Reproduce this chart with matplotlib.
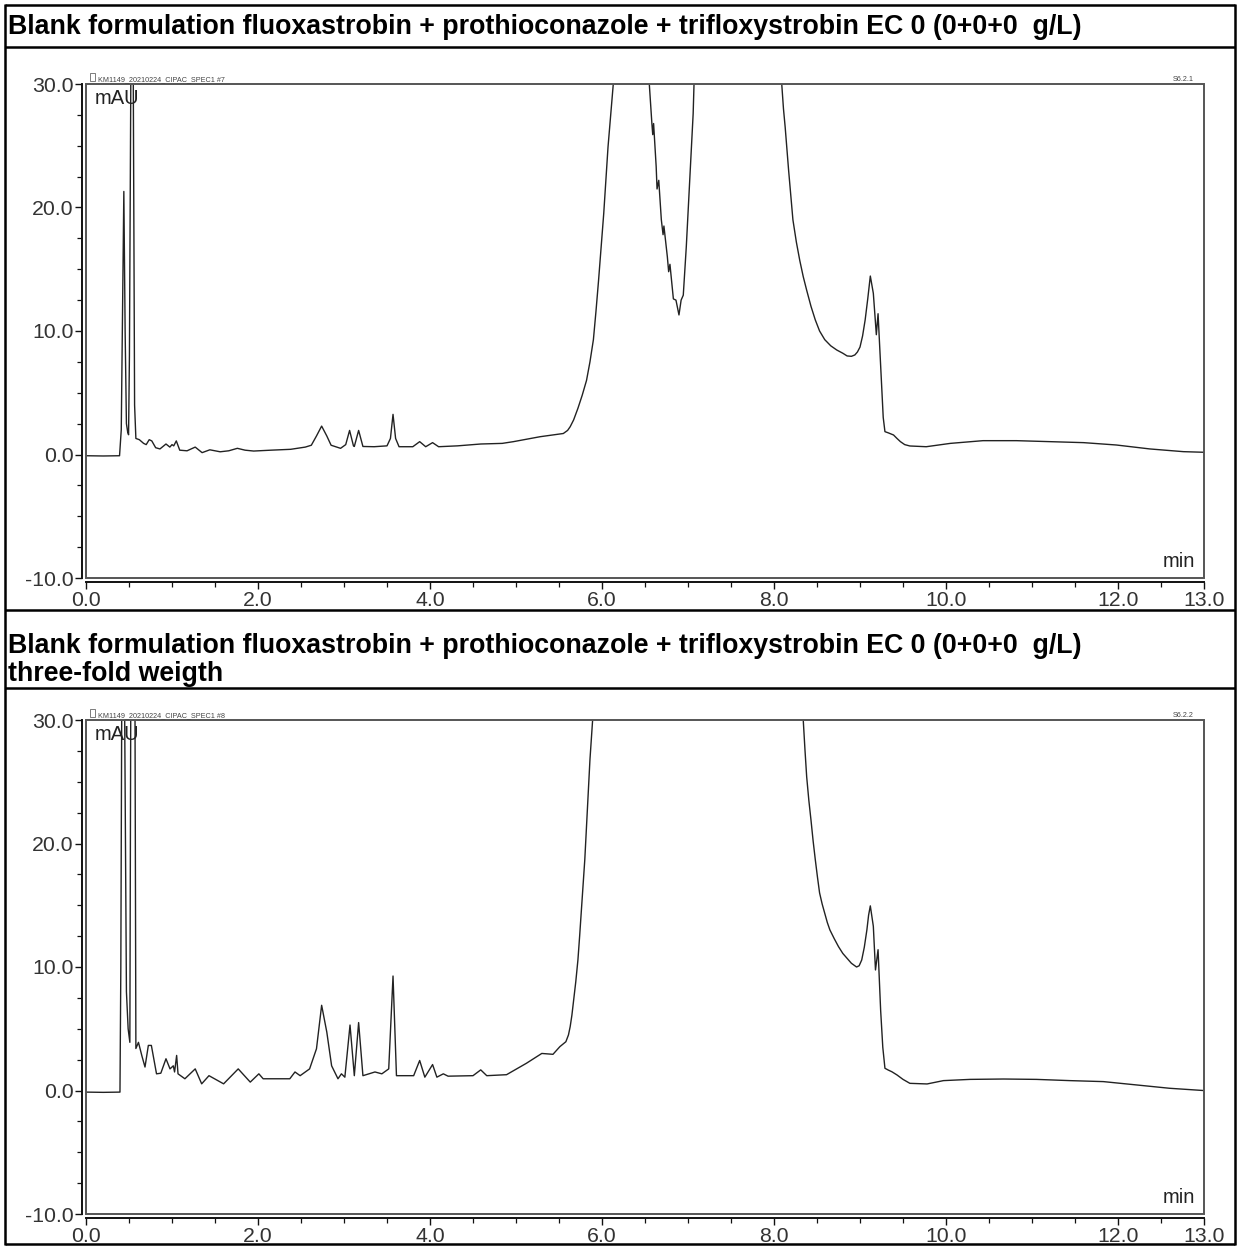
import matplotlib
matplotlib.use("Agg")
import matplotlib.pyplot as plt
from matplotlib.lines import Line2D
from matplotlib.patches import Rectangle
from matplotlib.ticker import MultipleLocator, FixedLocator, FixedFormatter

plt.rcParams['font.family'] = ['Liberation Sans', 'DejaVu Sans']

# ---------------- data ----------------
titles = [
    "Blank formulation fluoxastrobin + prothioconazole + trifloxystrobin EC 0 (0+0+0  g/L)",
    "Blank formulation fluoxastrobin + prothioconazole + trifloxystrobin EC 0 (0+0+0  g/L)\nthree-fold weigth",
]
headers = ["KM1149_20210224_CIPAC_SPEC1 #7", "KM1149_20210224_CIPAC_SPEC1 #8"]
codes = ["S6.2.1", "S6.2.2"]

xtick_vals = [0.0, 2.0, 4.0, 6.0, 8.0, 10.0, 12.0, 13.0]
xtick_labels = ["0.0", "2.0", "4.0", "6.0", "8.0", "10.0", "12.0", "13.0"]
ytick_vals = [-10.0, 0.0, 10.0, 20.0, 30.0]
ytick_labels = ["-10.0", "0.0", "10.0", "20.0", "30.0"]

time1 = [0.00, 0.20, 0.39, 0.41, 0.425, 0.44, 0.455, 0.47, 0.485, 0.495, 0.505, 0.52, 0.535, 0.55, 0.565,
         0.58, 0.62, 0.67, 0.70, 0.735, 0.765, 0.81, 0.86, 0.93, 0.975, 1.0, 1.02, 1.05, 1.09, 1.175,
         1.27, 1.35, 1.44, 1.56, 1.66, 1.76, 1.85, 1.95, 2.15, 2.38, 2.55, 2.62, 2.68, 2.74, 2.80,
         2.85, 2.96, 3.02, 3.065, 3.11, 3.12, 3.17, 3.22, 3.35, 3.50, 3.54, 3.57, 3.60, 3.64, 3.80,
         3.88, 3.95, 4.03, 4.10, 4.32, 4.59, 4.84, 4.97, 5.28, 5.55, 5.60, 5.63, 5.67, 5.72, 5.77,
         5.82, 5.86, 5.90, 5.93, 5.96, 5.99, 6.02, 6.07, 6.13, 6.34, 6.55, 6.58, 6.59, 6.60, 6.63,
         6.64, 6.66, 6.69, 6.71, 6.72, 6.76, 6.775, 6.79, 6.83, 6.86, 6.895, 6.92, 6.945, 6.98, 7.02,
         7.06, 7.07, 7.58, 8.09, 8.11, 8.13, 8.15, 8.17, 8.20, 8.22, 8.26, 8.30, 8.34, 8.38, 8.43,
         8.48, 8.53, 8.59, 8.66, 8.73, 8.80, 8.85, 8.90, 8.94, 8.97, 9.00, 9.03, 9.06, 9.09, 9.12,
         9.155, 9.19, 9.21, 9.25, 9.27, 9.29, 9.33, 9.39, 9.43, 9.47, 9.52, 9.58, 9.77, 10.05, 10.43,
         10.82, 11.21, 11.60, 11.98, 12.37, 12.76, 13.0]
signal1 = [-0.10, -0.12, -0.10, 2.0, 12.0, 21.3, 10.0, 2.5, 1.8, 1.6, 8.0, 30.0, 48.0, 30.0, 4.0,
           1.3, 1.2, 0.9, 0.8, 1.2, 1.1, 0.55, 0.45, 0.85, 0.6, 0.8, 0.7, 1.1, 0.35, 0.3,
           0.6, 0.15, 0.38, 0.22, 0.3, 0.5, 0.35, 0.28, 0.35, 0.42, 0.6, 0.75, 1.5, 2.3, 1.5,
           0.75, 0.5, 0.8, 1.95, 0.7, 0.65, 1.95, 0.65, 0.63, 0.7, 1.3, 3.25, 1.3, 0.63, 0.63,
           1.04, 0.63, 0.96, 0.63, 0.7, 0.85, 0.9, 1.04, 1.44, 1.7, 1.95, 2.25, 2.8, 3.74, 4.8,
           6.0, 7.5, 9.3, 11.6, 14.1, 16.8, 19.5, 24.9, 29.9, 120.0, 30.0, 26.8, 25.9, 26.8, 23.3,
           21.5, 22.2, 19.0, 17.8, 18.5, 16.0, 14.8, 15.4, 12.6, 12.5, 11.3, 12.5, 12.9, 16.8, 22.2,
           27.6, 30.0, 200.0, 30.0, 28.0, 26.5, 24.7, 23.0, 20.6, 19.0, 17.2, 15.7, 14.4, 13.3, 12.0,
           10.9, 10.0, 9.3, 8.8, 8.46, 8.2, 7.98, 7.95, 8.06, 8.3, 8.7, 9.6, 10.9, 12.6, 14.45,
           13.05, 9.7, 11.4, 5.77, 3.0, 1.85, 1.75, 1.58, 1.3, 1.04, 0.8, 0.69, 0.63, 0.9, 1.12,
           1.12, 1.04, 0.96, 0.77, 0.45, 0.23, 0.18]

time2 = [0.00, 0.20, 0.395, 0.405, 0.415, 0.43, 0.45, 0.47, 0.49, 0.51, 0.52, 0.545, 0.57, 0.58, 0.61,
         0.65, 0.686, 0.725, 0.76, 0.82, 0.87, 0.93, 0.977, 1.015, 1.03, 1.054, 1.07, 1.15, 1.27, 1.345,
         1.43, 1.6, 1.77, 1.91, 2.01, 2.06, 2.37, 2.43, 2.49, 2.60, 2.68, 2.74, 2.80, 2.856, 2.93,
         2.97, 3.01, 3.07, 3.12, 3.17, 3.22, 3.36, 3.44, 3.52, 3.57, 3.61, 3.81, 3.88, 3.94, 4.03,
         4.08, 4.155, 4.21, 4.50, 4.59, 4.66, 4.89, 5.12, 5.30, 5.43, 5.51, 5.58, 5.61, 5.63, 5.65,
         5.67, 5.695, 5.72, 5.74, 5.76, 5.78, 5.80, 5.83, 5.86, 5.89, 7.10, 8.34, 8.36, 8.38, 8.405,
         8.43, 8.455, 8.48, 8.505, 8.53, 8.56, 8.59, 8.62, 8.65, 8.70, 8.75, 8.80, 8.85, 8.90, 8.96,
         8.99, 9.02, 9.05, 9.08, 9.10, 9.12, 9.155, 9.18, 9.21, 9.24, 9.265, 9.29, 9.33, 9.37, 9.43,
         9.50, 9.58, 9.78, 9.97, 10.28, 10.67, 11.05, 11.44, 11.83, 12.22, 12.6, 12.99]
signal2 = [-0.13, -0.15, -0.13, 10.0, 30.0, 60.0, 30.0, 8.0, 5.0, 3.9, 30.0, 70.0, 30.0, 3.4, 3.9,
           2.8, 1.9, 3.65, 3.65, 1.35, 1.4, 2.57, 1.75, 2.0, 1.5, 2.84, 1.35, 0.95, 1.75, 0.54,
           1.2, 0.54, 1.75, 0.68, 1.35, 0.95, 0.95, 1.5, 1.2, 1.75, 3.38, 6.9, 4.73, 2.0, 0.95,
           1.35, 1.08, 5.3, 1.2, 5.5, 1.2, 1.5, 1.35, 1.75, 9.27, 1.2, 1.2, 2.43, 1.08, 2.1,
           1.08, 1.35, 1.16, 1.2, 1.67, 1.2, 1.28, 2.2, 3.0, 2.93, 3.55, 3.95, 4.5, 5.17, 6.1,
           7.33, 8.8, 10.57, 12.5, 14.6, 16.6, 18.7, 22.7, 26.8, 29.9, 300.0, 30.0, 27.6, 25.4, 23.5,
           21.9, 20.2, 18.7, 17.3, 16.0, 15.1, 14.35, 13.6, 13.0, 12.3, 11.65, 11.1, 10.7, 10.3, 10.0,
           10.1, 10.57, 11.6, 13.0, 14.2, 14.95, 13.3, 9.76, 11.4, 6.5, 3.5, 1.8, 1.65, 1.52, 1.26,
           0.9, 0.58, 0.53, 0.8, 0.9, 0.93, 0.9, 0.8, 0.72, 0.45, 0.18, 0.0]

series = [(time1, signal1), (time2, signal2)]

# ---------------- layout ----------------
W, H = 1239, 1248
fig = plt.figure(figsize=(W / 100, H / 100), dpi=100)
fig.patch.set_facecolor('white')


def fx(px):
    return px / W


def fy(py):
    return 1 - py / H


def hline(y, x0=5, x1=1235, lw=1.8):
    fig.add_artist(Line2D([fx(x0), fx(x1)], [fy(y), fy(y)], transform=fig.transFigure,
                          color='black', lw=lw, solid_capstyle='butt'))


def vline(x, y0=4, y1=1245, lw=1.8):
    fig.add_artist(Line2D([fx(x), fx(x)], [fy(y0), fy(y1)], transform=fig.transFigure,
                          color='black', lw=lw, solid_capstyle='butt'))


# table borders
for yy in (5, 47, 610, 688, 1244):
    hline(yy)
vline(5)
vline(1235)

# titles
fig.text(fx(8), fy(27), titles[0], ha='left', va='center', fontsize=19.3,
         fontweight='bold', color='black')
fig.text(fx(8), fy(660), titles[1], ha='left', va='center', fontsize=19.3,
         fontweight='bold', color='black', linespacing=1.08)

ax_left, ax_right = 86, 1204
panels = [(84, 578), (720, 1214)]
label_col = '#333333'

for i, (top, bot) in enumerate(panels):
    ax = fig.add_axes([fx(ax_left), fy(bot), fx(ax_right) - fx(ax_left), (bot - top) / H])
    t, v = series[i]
    ax.plot(t, v, color='#222222', lw=1.0, solid_joinstyle='round')
    ax.set_xlim(0, 13)
    ax.set_ylim(-10, 30)

    for s in ('top', 'right'):
        ax.spines[s].set_visible(False)
    for s in ('left', 'bottom'):
        ax.spines[s].set_position(('outward', 3))
        ax.spines[s].set_color('#111111')
        ax.spines[s].set_linewidth(1.4)
    ax.add_patch(Rectangle((0, 0), 1, 1, transform=ax.transAxes, fill=False,
                           edgecolor='#555555', lw=1.4, clip_on=False, zorder=3))

    ax.xaxis.set_major_locator(FixedLocator(xtick_vals))
    ax.xaxis.set_major_formatter(FixedFormatter(xtick_labels))
    ax.xaxis.set_minor_locator(MultipleLocator(0.5))
    ax.yaxis.set_major_locator(FixedLocator(ytick_vals))
    ax.yaxis.set_major_formatter(FixedFormatter(ytick_labels))
    ax.yaxis.set_minor_locator(MultipleLocator(2.5))
    ax.tick_params(axis='both', which='major', direction='out', length=5, width=1.0,
                   color='#111111', labelsize=15.3, labelcolor=label_col, pad=1)
    ax.tick_params(axis='both', which='minor', direction='out', length=3.5, width=0.9,
                   color='#111111')

    ax.text(0.008, 0.99, "mAU", transform=ax.transAxes, ha='left', va='top',
            fontsize=14.5, color='#222222')
    ax.text(0.992, 0.015, "min", transform=ax.transAxes, ha='right', va='bottom',
            fontsize=14.5, color='#222222')

    # header line above the plot frame
    ax.add_patch(Rectangle((fx(90), fy(top - 3)), fx(5), 8 / H, transform=fig.transFigure,
                           fill=False, edgecolor='#666666', lw=0.6, clip_on=False))
    fig.text(fx(98), fy(top - 3), headers[i], ha='left', va='baseline', fontsize=5.2,
             color='#444444')
    fig.text(fx(1194), fy(top - 3), codes[i], ha='right', va='baseline', fontsize=5.2,
             color='#444444')

fig.savefig("out.png", dpi=100, facecolor='white')
